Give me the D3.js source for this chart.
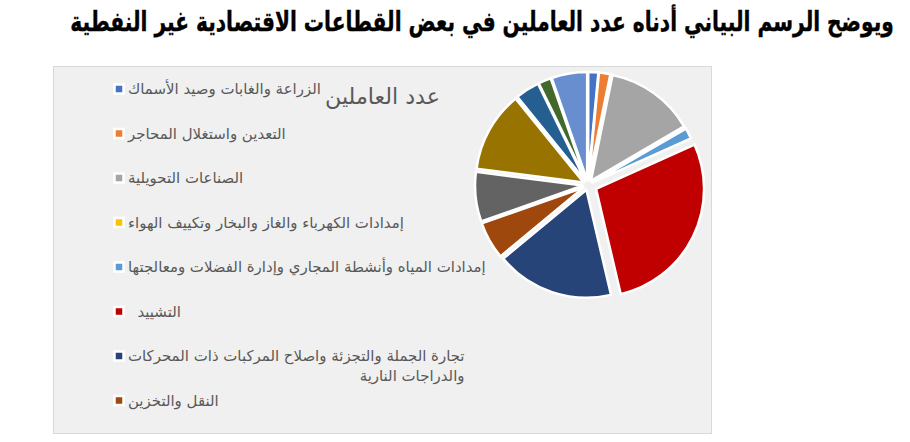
<!DOCTYPE html>
<html>
<head>
<meta charset="utf-8">
<script src="https://cdn.jsdelivr.net/npm/d3@7"></script>
<style>
  body { margin: 0; background: #fff; }
  svg { display: block; }
</style>
</head>
<body>
<div id="chart"></div>
<script>
// categories (only the first 8 appear in the clipped legend)
const sectors = [
    'الزراعة والغابات وصيد الأسماك',
    'التعدين واستغلال المحاجر',
    'الصناعات التحويلية',
    'إمدادات الكهرباء والغاز والبخار وتكييف الهواء',
    'إمدادات المياه وأنشطة المجاري وإدارة الفضلات ومعالجتها',
    'التشييد\u00a0\u00a0',
    'تجارة الجملة والتجزئة واصلاح المركبات ذات المحركات والدراجات النارية',
    'النقل والتخزين',
    'الإقامة والطعام',
    'المعلومات والاتصالات',
    'الأنشطة المالية وأنشطة التأمين',
    'الأنشطة العقارية',
    'الأنشطة المهنية والعلمية والتقنية'
];
// share of workers (%)
const workers = [1.5, 1.7, 13.3, 0.1, 1.6, 28.0, 17.6, 5.6, 7.4, 12.1, 3.6, 1.9, 5.3];
const colors = ['#4472c4', '#ed7d31', '#a5a5a5', '#ffc000', '#5b9bd5', '#c00000',
    '#264478', '#9e480e', '#636363', '#997300', '#255e91', '#43682b', '#698ed0'];
// legend lines (the long label wraps in two)
const legendLines = [
    ['الزراعة والغابات وصيد الأسماك'],
    ['التعدين واستغلال المحاجر'],
    ['الصناعات التحويلية'],
    ['إمدادات الكهرباء والغاز والبخار وتكييف الهواء'],
    ['إمدادات المياه وأنشطة المجاري وإدارة الفضلات ومعالجتها'],
    ['التشييد\u00a0\u00a0'],
    ['تجارة الجملة والتجزئة واصلاح المركبات ذات المحركات', 'والدراجات النارية'],
    ['النقل والتخزين']
];
const pageTitle = 'ويوضح الرسم البياني أدناه عدد العاملين في بعض القطاعات الاقتصادية غير النفطية';
const chartTitle = 'عدد العاملين';

let w = 910;
let h = 442;
let svg = d3.select('#chart').append('svg').attr('width', w).attr('height', h);

// heading above the chart (tall, narrow bold face squeezed to the picture's width)
let head = svg.append('text')
    .attr('x', 0)
    .attr('y', 0)
    .attr('text-anchor', 'middle')
    .attr('font-family', 'DejaVu Sans')
    .attr('font-weight', 'bold')
    .attr('font-size', 27)
    .attr('fill', '#000')
    .attr('stroke', '#000')
    .attr('stroke-width', 0.4)
    .text(pageTitle);
let hw = head.node().getComputedTextLength();
head.attr('transform', 'translate(482,31) scale(' + (824 / hw) + ',1)');

// chart area
svg.append('rect')
    .attr('x', 53.5).attr('y', 66.5)
    .attr('width', 658).attr('height', 367)
    .attr('fill', '#f0f0f0')
    .attr('stroke', '#d9d9d9');

// chart title
let ct = svg.append('text')
    .attr('x', 440)
    .attr('y', 104)
    .attr('direction', 'rtl')
    .attr('text-anchor', 'start')
    .attr('font-family', 'DejaVu Sans')
    .attr('font-size', 24)
    .attr('fill', '#595959')
    .text(chartTitle);
let ctw = ct.node().getComputedTextLength();
ct.attr('font-size', 24 * 115 / ctw);

// pie
let cx = 588, cy = 185, r = 108;
let explode = [5, 5, 5, 5, 5, 9, 5, 5, 5, 5, 5, 5, 5];
let pie = d3.pie().sort(null).value(d => d);
let arc = d3.arc().innerRadius(0).outerRadius(r);
let g = svg.append('g').attr('transform', 'translate(' + cx + ',' + cy + ')');
g.selectAll('path')
    .data(pie(workers))
    .enter()
    .append('path')
    .attr('d', arc)
    .attr('transform', function(d, i) {
        let a = (d.startAngle + d.endAngle) / 2;
        return 'translate(' + (Math.sin(a) * explode[i]) + ',' + (-Math.cos(a) * explode[i]) + ')';
    })
    .attr('fill', (d, i) => colors[i])
    .attr('stroke', '#fff')
    .attr('stroke-width', 2.5)
    .attr('stroke-linejoin', 'round');

// legend
let rowY = d3.scaleLinear().domain([0, 1]).range([89, 133.5]);
let fs = 14;
let leg = svg.append('g');
let rows = leg.selectAll('.row')
    .data(legendLines)
    .enter()
    .append('g')
    .attr('class', 'row')
    .attr('transform', (d, i) => 'translate(0,' + rowY(i) + ')');
rows.append('rect')
    .attr('x', 114.5).attr('y', -4.5)
    .attr('width', 9).attr('height', 9)
    .attr('fill', (d, i) => colors[i])
    .attr('stroke', '#fff')
    .attr('stroke-width', 2.5);
let texts = rows.selectAll('text')
    .data(d => d)
    .enter()
    .append('text')
    .attr('y', (d, j) => j * 20 + 5)
    .attr('direction', 'rtl')
    .attr('font-family', 'DejaVu Sans')
    .attr('font-size', fs)
    .attr('fill', '#595959')
    .text(d => d);

// fit the longest single-line label to its width in the picture
let longest = texts.filter(d => d === legendLines[4][0]).node().getComputedTextLength();
fs = fs * 358 / longest;
texts.attr('font-size', fs);
// right-align every row's lines to the first line, left edge at 128
rows.each(function() {
    let t = d3.select(this).selectAll('text');
    let first = t.node().getComputedTextLength();
    t.attr('x', 128 + first).attr('text-anchor', 'start');
});
</script>
</body>
</html>
